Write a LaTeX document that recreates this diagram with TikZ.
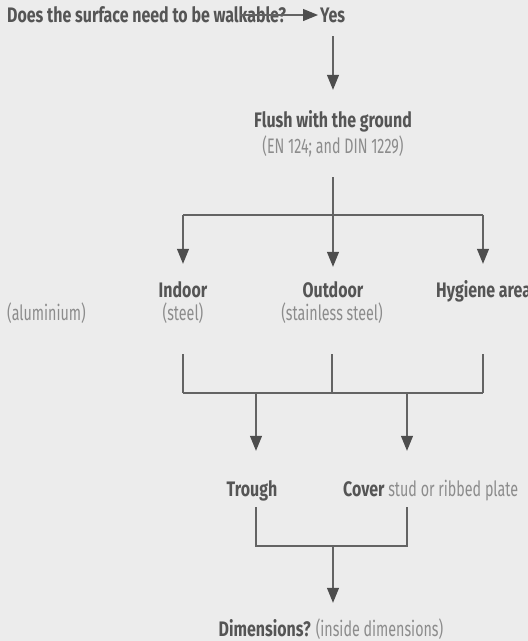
\documentclass[tikz,border=0pt]{standalone}
\usepackage{fontspec}
\setmainfont{Fira Sans}[UprightFeatures={FakeStretch=0.68}, BoldFeatures={FakeStretch=0.76}]
\usetikzlibrary{arrows.meta}
\definecolor{bg}{HTML}{ECECEC}
\definecolor{dark}{HTML}{555555}
\definecolor{light}{HTML}{8C8C8C}
\definecolor{linec}{HTML}{636363}
\definecolor{tipc}{HTML}{4D4D4D}
\tikzset{
  lbl/.style={inner sep=0, text height=14pt, text depth=4pt, text=dark, font=\bfseries},
  note/.style={inner sep=0, text height=14pt, text depth=4pt, text=light},
  link/.style={draw=linec, line width=1.2pt},
  arr/.style={link, -{Triangle[width=12pt,length=15pt,fill=tipc,color=tipc]}}
}
\begin{document}
\begin{tikzpicture}[x=1pt,y=-1pt]
  \fontsize{21}{25}\selectfont
  \path[fill=bg, use as bounding box] (0,0) rectangle (528,641);
  \node[lbl, anchor=base west] (ask) at (7,22) {Does the surface need to be walkable?};
  \node[lbl, anchor=base west] (yes) at (320,22) {Yes};
  \node[lbl, anchor=base] (flush) at (333,127) {Flush with the ground};
  \node[note, anchor=base] (flushref) at (333,153) {(EN 124; and DIN 1229)};
  \node[lbl, anchor=base] (indoor) at (183,297) {Indoor};
  \node[lbl, anchor=base] (outdoor) at (333,297) {Outdoor};
  \node[lbl, anchor=base west] (hygiene) at (436,297) {Hygiene area};
  \node[note, anchor=base west] (alu) at (7,320) {(aluminium)};
  \node[note, anchor=base] (steel) at (183,320) {(steel)};
  \node[note, anchor=base] (stainless) at (332,320) {(stainless steel)};
  \node[lbl, anchor=base] (trough) at (252,496) {Trough};
  \node[lbl, anchor=base west] (cover) at (343,496) {Cover \textcolor{light}{\mdseries stud or ribbed plate}};
  \node[lbl, anchor=base] (dims) at (331,636) {Dimensions? \textcolor{light}{\mdseries(inside dimensions)}};
  \coordinate (askend) at (240,15);
  \coordinate (fork) at (333,215);
  \coordinate (join) at (333,393);
  \coordinate (tleft) at (256,393);
  \coordinate (tright) at (407,393);
  \coordinate (hx) at (483,393);
  \coordinate (merge) at (333,546);
  \draw[arr, shorten >=2pt] (askend) -- (askend -| yes.west);
  \draw[arr, shorten <=10pt, shorten >=23pt] (flush.north |- yes.south) -- (flush.north);
  \draw[arr, shorten <=20pt, shorten >=16pt] (flushref.south) -- (outdoor.north);
  \draw[link] (fork -| indoor) -- (fork -| hx);
  \draw[arr, shorten >=19pt] (fork -| indoor) -- (indoor.north);
  \draw[arr, shorten >=19pt] (fork -| hx) -- (hx |- hygiene.north);
  \foreach \n in {steel,stainless}
    \draw[link, shorten <=30pt] (\n.south) -- (join -| \n);
  \draw[link, shorten <=53pt] (hx |- hygiene.south) -- (hx);
  \draw[link] (join -| indoor) -- (hx);
  \draw[arr, shorten >=31pt] (tleft) -- (tleft |- trough.north);
  \draw[arr, shorten >=31pt] (tright) -- (tright |- cover.north);
  \draw[link, shorten <=7pt, shorten >=7pt] (tleft |- trough.south) -- (merge -| tleft) -- (merge -| tright) -- (tright |- cover.south);
  \draw[arr, shorten >=19pt] (merge) -- (merge |- dims.north);
\end{tikzpicture}
\end{document}
